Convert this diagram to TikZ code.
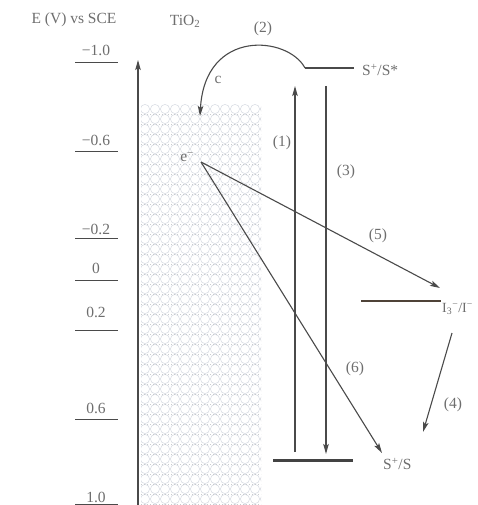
\documentclass[tikz,border=0pt]{standalone}
\usepackage{fontspec}
\setmainfont{Liberation Serif}
\usetikzlibrary{arrows.meta}
\definecolor{txt}{HTML}{6E6E6E}
\definecolor{ln}{HTML}{4A4A4A}
\definecolor{pat}{HTML}{D2D7DF}
\definecolor{redox}{HTML}{4F4338}
\tikzset{
  lbl/.style={font=\fontsize{15.5}{18}\selectfont, text=txt, inner sep=0pt},
  tick/.style={draw=ln, line width=1pt},
  arr/.style={draw=ln, line width=1.1pt, -{Stealth[length=10pt,width=5.5pt,inset=2pt]}},
  level/.style={draw=ln!90!black, line width=3pt},
}
\begin{document}
\begin{tikzpicture}[x=1pt,y=-1pt]
\useasboundingbox[fill=white] (0,0) rectangle (477,505);
% TiO2 pattern box
\begin{scope}
\clip (141,105) rectangle (261,505);
\foreach \i in {0,...,12} {
  \foreach \j in {0,...,40} {
    \draw[pat, line width=0.45pt] (145+\i*10, 109+\j*10) circle (4.6);
  }
}
\foreach \j in {0,...,40} {
  \draw[pat!70!black!50, line width=0.5pt, dash pattern=on 0.8pt off 2.2pt] (141,114+\j*10) -- (261,114+\j*10);
}
\end{scope}
% headers
\node[lbl] (hE) at (74,20) {E (V) vs SCE};
\node[lbl] (hT) at (185,21) {TiO\textsubscript{2}};
% scale ticks and labels
\foreach \nm/\txt/\ty/\ly in {a/−1.0/50/63, b/−0.6/140/152, c/−0.2/229/238, d/0/268/280, e/0.2/312/330, f/0.6/408/419, g/1.0/497/504} {
  \node[lbl] (t\nm) at (96,\ty) {\txt};
  \coordinate (l\nm1) at (75,\ly);
  \coordinate (l\nm2) at (118,\ly);
  \draw[tick] (l\nm1) -- (l\nm2);
}
% axis
\coordinate (ax0) at (138,505);
\coordinate (ax1) at (138,60);
\draw[arr] (ax0) -- (ax1);
% levels
\coordinate (ex1) at (305,68);
\coordinate (ex2) at (354,68);
\draw[draw=ln, line width=2pt] (ex1) -- (ex2);
\node[lbl, anchor=west] (Sex) at (362,70) {S\textsuperscript{+}/S*};
\coordinate (gs1) at (273,460);
\coordinate (gs2) at (353,460);
\draw[level] (gs1) -- (gs2);
\node[lbl, anchor=west] (Sgs) at (383,464) {S\textsuperscript{+}/S};
\coordinate (io1) at (361,301);
\coordinate (io2) at (441,301);
\draw[draw=redox, line width=2.8pt] (io1) -- (io2);
\node[lbl, anchor=west, font=\fontsize{14}{16}\selectfont] (Iod) at (442,309) {I\textsubscript{3}\textsuperscript{−}/I\textsuperscript{−}};
% electron
\node[lbl] (el) at (187,157) {e\textsuperscript{−}};
\coordinate (es) at (201,162);
% (2) injection curve
\coordinate (c2e) at (200,116);
\draw[arr] (ex1) .. controls (288,36) and (205,28) .. (c2e);
\node[lbl] (n2) at (263,29) {(2)};
\node[lbl] (nc) at (218,80) {c};
% (1) and (3)
\coordinate (a1s) at (295,452);
\coordinate (a1e) at (295,86);
\draw[arr] (a1s) -- (a1e);
\node[lbl] (n1) at (282,143) {(1)};
\coordinate (a3s) at (326,86);
\coordinate (a3e) at (326,454);
\draw[arr] (a3s) -- (a3e);
\node[lbl] (n3) at (346,172) {(3)};
% (5) and (6)
\coordinate (a5e) at (440,288);
\draw[arr] (es) -- (a5e);
\node[lbl] (n5) at (378,236) {(5)};
\coordinate (a6e) at (382,453);
\draw[arr] (es) -- (a6e);
\node[lbl] (n6) at (355,369) {(6)};
% (4)
\coordinate (a4s) at (452,333);
\coordinate (a4e) at (423,432);
\draw[arr] (a4s) -- (a4e);
\node[lbl] (n4) at (453,405) {(4)};
\end{tikzpicture}
\end{document}
